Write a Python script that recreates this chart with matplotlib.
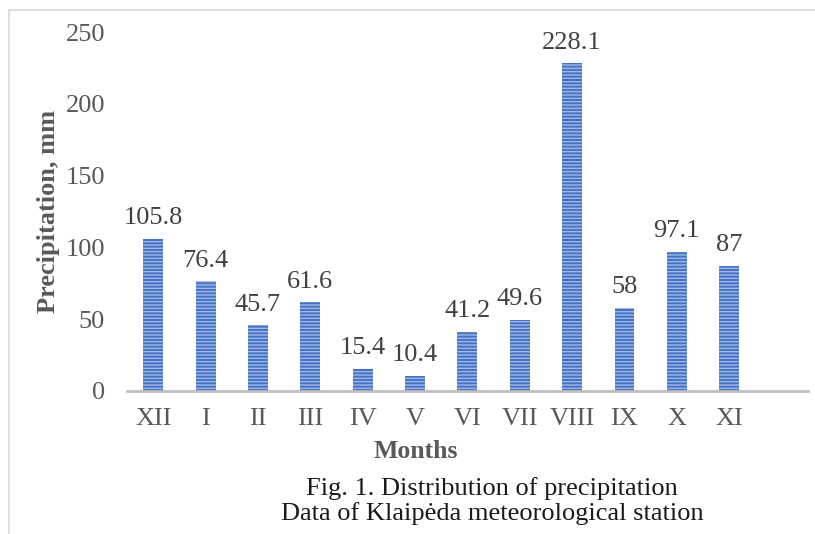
import matplotlib
matplotlib.use("Agg")
import matplotlib.pyplot as plt
from matplotlib.lines import Line2D
import numpy as np

months = ["XII", "I", "II", "III", "IV", "V", "VI", "VII", "VIII", "IX", "X", "XI"]
precip = [105.8, 76.4, 45.7, 61.6, 15.4, 10.4, 41.2, 49.6, 228.1, 58, 97.1, 87]
value_labels = ["105.8", "76.4", "45.7", "61.6", "15.4", "10.4", "41.2", "49.6", "228.1", "58", "97.1", "87"]
yticks = [0, 50, 100, 150, 200, 250]

plt.rcParams["font.family"] = ["Liberation Serif", "DejaVu Serif"]
plt.rcParams["hatch.color"] = "#9fb6e4"
plt.rcParams["hatch.linewidth"] = 1.0

grey = "#595959"

fig = plt.figure(figsize=(8.15, 5.34), dpi=100)
ax = fig.add_axes([0.156, 0.268, 0.835, 0.672])

x = np.arange(len(months))
bars = ax.bar(x, precip, width=0.38, color="#4472c4", hatch="-----", linewidth=0)

for xi, v, lab in zip(x, precip, value_labels):
    ax.annotate(lab, (xi, v), xytext=(0, 7), textcoords="offset points",
                ha="center", va="bottom", fontsize=19, color="#404040")

ax.set_xlim(-0.5, len(months) + 0.5)
ax.set_ylim(0, 250)
ax.set_xticks(x)
ax.set_xticklabels(months, fontsize=19, color=grey)
ax.set_yticks(yticks)
ax.set_yticklabels([str(t) for t in yticks], fontsize=19, color=grey)
ax.tick_params(axis="x", length=0, pad=12)
ax.tick_params(axis="y", length=0, pad=16)

for s in ["top", "right", "left"]:
    ax.spines[s].set_visible(False)
ax.spines["bottom"].set_color("#bfbfbf")
ax.spines["bottom"].set_linewidth(2)

ax.set_ylabel("Precipitation, mm", fontsize=19, fontweight="bold", color=grey)
ax.yaxis.set_label_coords(-0.099, 0.5)
ax.set_xlabel("Months", fontsize=18.5, fontweight="bold", color=grey)
ax.xaxis.set_label_coords(0.424, -0.17)
ax.xaxis.label.set_va("center")

fig.text(0.604, 0.086, "Fig. 1. Distribution of precipitation", ha="center", va="center",
         fontsize=19, color="#1a1a1a")
fig.text(0.604, 0.039, "Data of Klaipėda meteorological station", ha="center", va="center",
         fontsize=19, color="#1a1a1a")

# outer frame
fig.add_artist(Line2D([0.011, 0.011], [0.0, 0.981], transform=fig.transFigure,
                      color="#d9d9d9", lw=1.2))
fig.add_artist(Line2D([0.011, 1.0], [0.981, 0.981], transform=fig.transFigure,
                      color="#d9d9d9", lw=1.2))

fig.savefig("out.png", dpi=100, facecolor="white")
